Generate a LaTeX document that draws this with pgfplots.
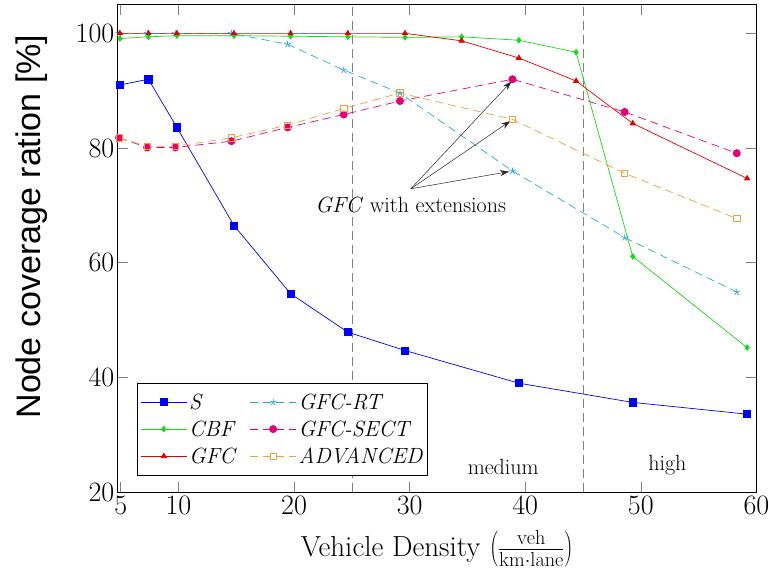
\documentclass[border=0pt]{standalone}
\usepackage{fix-cm}
\usepackage{fontspec}
\newfontfamily\arialfont{Liberation Sans}
\usepackage{pgfplots}
\pgfplotsset{compat=1.18}
\usetikzlibrary{arrows.meta}

\definecolor{cS}{RGB}{0,0,255}
\definecolor{cCBF}{RGB}{20,220,20}
\definecolor{cGFC}{RGB}{230,0,0}
\definecolor{cRT}{RGB}{40,170,220}
\definecolor{cSECT}{RGB}{230,0,120}
\definecolor{cADV}{RGB}{240,160,60}

\begin{document}
\begin{tikzpicture}
\begin{axis}[
  width=638pt, height=487pt, scale only axis,
  xmin=4.75, xmax=60, ymin=20, ymax=105,
  xtick={5,10,20,30,40,50,60},
  ytick={20,40,60,80,100},
  /pgf/number format/assume math mode=true,
  tick label style={font=\fontsize{28}{32}\selectfont},
  major tick length=10pt,
  every tick/.style={gray, line width=0.6pt},
  axis line style={line width=0.8pt},
  xlabel={Vehicle Density $\left(\frac{\mathrm{veh}}{\mathrm{km{\cdot}lane}}\right)$},
  xlabel style={font=\fontsize{29}{33}\selectfont, at={(axis description cs:0.5,-0.116)}, anchor=center},
  ylabel={Node coverage ration [\%]},
  ylabel style={font=\arialfont\fontsize{34}{40}\selectfont, at={(axis description cs:-0.1348,0.545)}, anchor=center},
  every axis plot/.append style={line width=0.7pt},
  legend image code/.code={\draw[mark repeat=2,mark phase=2,#1] plot coordinates {(0pt,0pt) (23pt,0pt) (46pt,0pt)};},
  legend columns=2,
  legend cell align=left,
  legend style={at={(rel axis cs:0.0303,0.0349)}, anchor=south west,
    font=\fontsize{22}{26}\selectfont\itshape, draw=black, line width=0.6pt,
    inner xsep=3pt, inner ysep=8pt, row sep=6pt,
    /tikz/every even column/.append style={column sep=13pt}},
]
\draw[gray, dash pattern=on 9pt off 5pt, line width=0.7pt] (axis cs:25,20) -- (axis cs:25,105);
\draw[gray, dash pattern=on 9pt off 5pt, line width=0.7pt] (axis cs:45,20) -- (axis cs:45,105);

\addplot[color=cS, mark=square*, mark size=3.6pt] coordinates {
  (4.93,91.0) (7.4,92.0) (9.86,83.6) (14.8,66.5) (19.7,54.6) (24.65,47.9)
  (29.6,44.7) (39.45,39.0) (49.3,35.65) (59.2,33.6)
};
\addlegendentry{S}
\addplot[color=cRT, dash pattern=on 8pt off 5pt, mark=star, mark size=3.5pt, mark options={solid}] coordinates {
  (4.86,100) (7.29,100) (9.72,100) (14.58,100) (19.44,98.1) (24.3,93.6)
  (29.16,89.6) (38.9,76.0) (48.6,64.4) (58.3,54.9)
};
\addlegendentry{GFC-RT}
\addplot[color=cCBF, mark=diamond*, mark size=2.8pt] coordinates {
  (4.93,99.1) (7.4,99.4) (9.86,99.6) (14.8,99.6) (19.7,99.5) (24.65,99.4)
  (29.6,99.3) (34.5,99.4) (39.45,98.8) (44.4,96.7) (49.3,61.1) (59.2,45.2)
};
\addlegendentry{CBF}
\addplot[color=cSECT, dash pattern=on 8pt off 5pt, mark=*, mark size=3.6pt, mark options={solid}] coordinates {
  (4.86,81.8) (7.29,80.1) (9.72,80.1) (14.58,81.2) (19.44,83.6) (24.3,85.85)
  (29.16,88.2) (38.9,92.0) (48.6,86.3) (58.3,79.1)
};
\addlegendentry{GFC-SECT}
\addplot[color=cGFC, mark=triangle*, mark size=3pt] coordinates {
  (4.93,100) (7.4,100) (9.86,100) (14.8,100) (19.7,100) (24.65,100)
  (29.6,100) (34.5,98.7) (39.45,95.7) (44.4,91.7) (49.3,84.3) (59.2,74.7)
};
\addlegendentry{GFC}
\addplot[color=cADV, dash pattern=on 8pt off 5pt, mark=square, mark size=3.2pt, mark options={solid}] coordinates {
  (4.86,81.8) (7.29,80.3) (9.72,80.3) (14.58,81.8) (19.44,84.0) (24.3,86.9)
  (29.16,89.6) (38.9,85.0) (48.6,75.6) (58.3,67.7)
};
\addlegendentry{ADVANCED}

\draw[-{Stealth[length=9pt,width=6pt]}, line width=0.5pt, black!85] (axis cs:30.1,72.9) -- (axis cs:38.8,91.6);
\draw[-{Stealth[length=9pt,width=6pt]}, line width=0.5pt, black!85] (axis cs:30.1,72.9) -- (axis cs:38.7,84.7);
\draw[-{Stealth[length=9pt,width=6pt]}, line width=0.5pt, black!85] (axis cs:30.1,72.9) -- (axis cs:38.6,75.9);
\node[font=\fontsize{22}{26}\selectfont] at (axis cs:30.09,70.0) {\textit{GFC} with extensions};
\node[font=\fontsize{22}{26}\selectfont] at (axis cs:38.1,24.4) {medium};
\node[font=\fontsize{22}{26}\selectfont] at (axis cs:52.3,24.8) {high};
\end{axis}
\pgfresetboundingbox
\path ([xshift=-117.7pt,yshift=-77.7pt]current axis.south west) rectangle ([xshift=12.6pt,yshift=4.7pt]current axis.north east);
\end{tikzpicture}
\end{document}
